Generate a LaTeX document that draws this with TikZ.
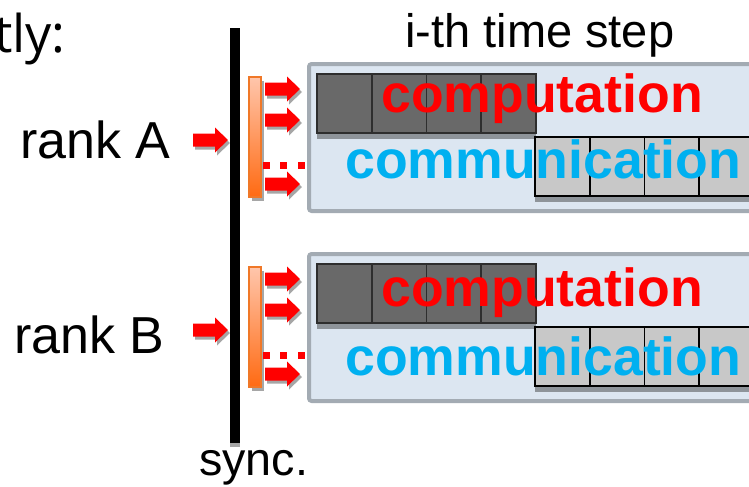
\documentclass[tikz,border=0pt]{standalone}
\usepackage{fontspec}
\setmainfont{Liberation Sans}
\newfontfamily\leadfont{Open Sans}
\definecolor{boxfill}{HTML}{DCE6F1}
\definecolor{boxline}{HTML}{A3ABB3}
\definecolor{darkcell}{HTML}{696969}
\definecolor{darkedge}{HTML}{2E2E2E}
\definecolor{lightcell}{HTML}{C8C8C8}
\definecolor{cellshadow}{HTML}{8E949A}
\definecolor{compred}{HTML}{FF0000}
\definecolor{commblue}{HTML}{00B0F0}
\definecolor{barline}{HTML}{F07828}
\definecolor{bartop}{HTML}{FFC6AC}
\definecolor{barbottom}{HTML}{FF6A12}
\definecolor{softshadow}{HTML}{A6A6A6}
\tikzset{
  % block arrow, origin at the left end of the shaft
  blockarrow/.pic={
    \fill[softshadow] (2,-3.5) -- (24,-3.5) -- (24,-9.5) -- (37,3) -- (24,15.5)
      -- (24,9.5) -- (2,9.5) -- cycle;
    \fill[compred] (0,-6.5) -- (22,-6.5) -- (22,-12.5) -- (35,0) -- (22,12.5)
      -- (22,6.5) -- (0,6.5) -- cycle;
  },
  reddot/.style={fill=compred},
  labeltext/.style={inner sep=0pt, anchor=base west},
  comptext/.style={labeltext, text=compred, font=\bfseries\fontsize{40.2}{41}\selectfont},
  commtext/.style={labeltext, text=commblue, font=\bfseries\fontsize{40.2}{41}\selectfont},
  ranktext/.style={labeltext, font=\fontsize{39}{40}\selectfont},
}
% one rank: step box, cells, labels, fan-out arrows and bar
% #1 vertical offset, #2 name prefix, #3 comp baseline, #4 comm baseline
\newcommand{\rankrow}[4]{%
  \begin{scope}[yshift=#1]
    % step box
    \draw[boxline, fill=boxfill, line width=3pt, rounded corners=2]
      (309,64) rectangle (770,211);
    % computation cells
    \fill[cellshadow] (317,133) rectangle (536,139);
    \foreach \i in {0,1,2,3} {
      \draw[darkedge, fill=darkcell, line width=1.4pt]
        ({317+54.75*\i},74) rectangle ({317+54.75*(\i+1)},133);
    }
    % communication cells
    \fill[cellshadow] (535,196) rectangle (760,202);
    \foreach \i in {0,1,2,3} {
      \draw[black, fill=lightcell, line width=1.4pt]
        ({535+54.75*\i},137) rectangle ({535+54.75*(\i+1)},196);
    }
    % fan-out bar
    \fill[softshadow] (252,81) rectangle (264,201);
    \shade[top color=bartop, bottom color=barbottom, draw=barline, line width=1.2pt]
      (249,77) rectangle (261,197);
    % fan-out arrows
    \pic at (265,89) {blockarrow};
    \pic at (265,120) {blockarrow};
    \pic at (265,184) {blockarrow};
    \fill[reddot] (263,162) rectangle (270,169);
    \fill[reddot] (280,162) rectangle (287,169);
    \fill[reddot] (298,162) rectangle (305,169);
    % incoming arrow
    \pic at (193,140) {blockarrow};
  \end{scope}
  \node[comptext] (#2comp) at (381,#3) {computation};
  \node[commtext] (#2comm) at (345,#4) {communication};
}
\begin{document}
\begin{tikzpicture}[x=0.75pt, y=-0.75pt]
  \useasboundingbox (0,0) rectangle (749,486);

  \node[labeltext, anchor=base east, font=\leadfont\fontsize{39}{40}\selectfont]
    (lead) at (66,52) {tly:};
  \node[labeltext, font=\fontsize{35.25}{36}\selectfont] (steplabel) at (405,47) {i-th time step};

  \rankrow{0pt}{a}{112}{178}
  \rankrow{-142.5pt}{b}{306}{375}

  \node[ranktext] (rankA) at (20,158) {rank A};
  \node[ranktext] (rankB) at (14,353) {rank B};

  % synchronisation barrier
  \draw[softshadow, line width=7.5pt] (235,32) -- (235,447);
  \draw[black, line width=7.5pt] (235,28) -- (235,443);
  \node[labeltext, font=\fontsize{35}{36}\selectfont] (sync) at (199,475) {sync.};
\end{tikzpicture}
\end{document}
